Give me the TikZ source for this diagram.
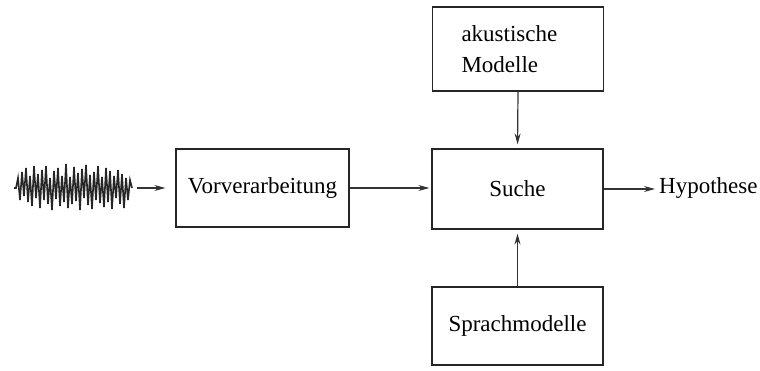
\documentclass[tikz,border=0pt]{standalone}
\usepackage{fontspec}
\setmainfont{Liberation Serif}
\usetikzlibrary{arrows.meta}
\begin{document}
\begin{tikzpicture}[x=1pt,y=-1pt,
  box/.style={draw=black!85,line width=1.2pt,minimum width=171pt,minimum height=80pt,font=\fontsize{23}{28}\selectfont,inner sep=0pt},
  conn/.style={draw=black!80,line width=1.2pt,-{Stealth[length=11pt,width=6pt]}},
  wave/.style={draw=black!85,line width=1.6pt,line join=miter}]
\useasboundingbox (0,0) rectangle (760,370);
\node[box,minimum width=173pt,minimum height=78pt] (vor) at (262.5,188) {Vorverarbeitung};
\node[box] (suche) at (517.5,189) {Suche};
\node[box,minimum height=84pt,text width=113pt,inner xsep=29pt,align=left,font=\fontsize{23}{31}\selectfont] (akm) at (518,49) {akustische\\Modelle};
\node[box,minimum height=78pt] (spm) at (517.5,326) {Sprachmodelle};
\node[anchor=west,font=\fontsize{23}{28}\selectfont,inner sep=0pt] (hyp) at (659,188) {Hypothese};
\draw[wave] (14,188) \foreach \d [count=\i] in {0,-10,12,-16,8,-20,14,-12,18,-22,10,-14,20,-18,12,-22,16,-10,22,-17,11,-20,18,-12,14,-24,20,-11,16,-21,13,-15,22,-19,10,-23,17,-13,21,-16,12,-22,15,-11,19,-20,14,-17,21,-12,10,-18,16,-14,20,-10,12,-8,0} { -- (14+2*\i,188+\d) };
\coordinate (wv) at (137,188);
\draw[conn] (wv) -- (wv -| vor.west) [shorten >=10pt];
\draw[conn,shorten >=2pt] (vor.east) -- (vor.east -| suche.west);
\draw[conn,shorten >=4pt] (akm.south) -- (suche.north);
\draw[conn,shorten >=4pt] (spm.north) -- (suche.south);
\draw[conn,shorten >=4pt] (suche.east) -- (suche.east -| hyp.west);
\end{tikzpicture}
\end{document}
